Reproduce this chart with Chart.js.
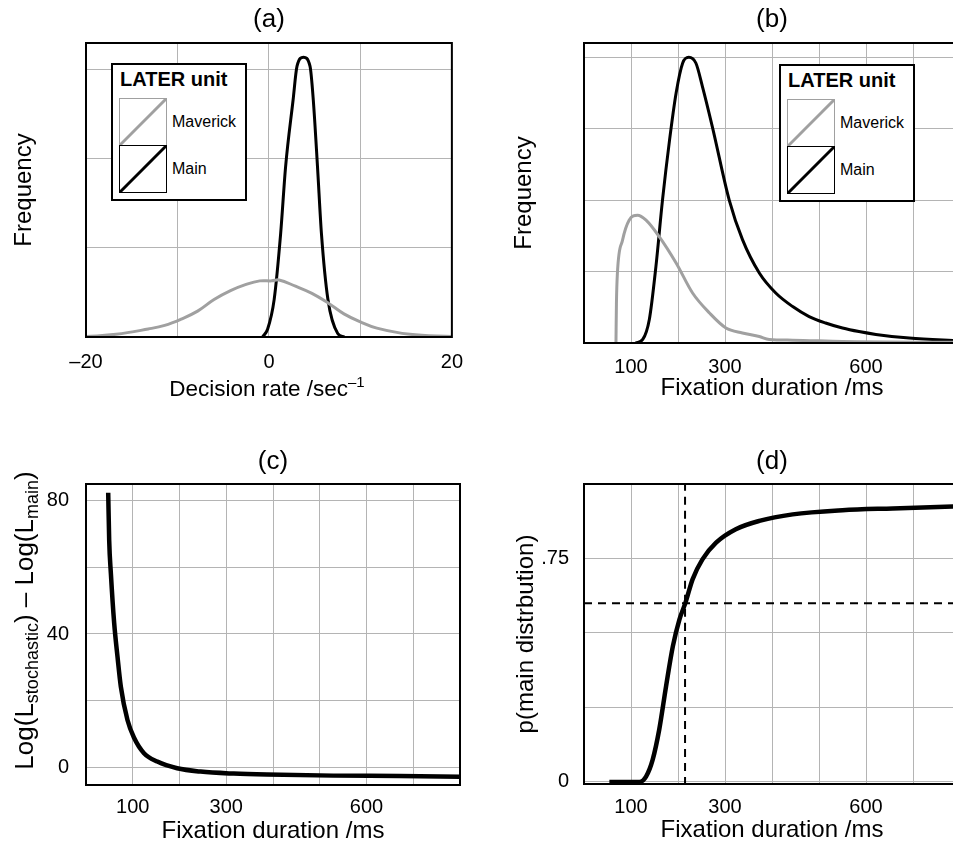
<!DOCTYPE html>
<html><head><meta charset="utf-8">
<script src="https://cdn.jsdelivr.net/npm/chart.js@4.4.1/dist/chart.umd.min.js"></script>
<style>
html,body{margin:0;padding:0;background:#fff;overflow:hidden;width:953px;height:846px;position:relative;}
canvas{position:absolute;}
.legend{position:absolute;box-sizing:border-box;width:136px;height:138px;border:2px solid #000;background:#fff;font-family:'Liberation Sans',Arial,sans-serif;color:#000;}
.legend .lt{position:absolute;left:7px;top:2px;font-weight:bold;font-size:20px;line-height:24px;white-space:nowrap;}
.legend svg{position:absolute;left:6px;top:33px;}
.legend .li{position:absolute;left:59px;font-size:16px;line-height:20px;white-space:nowrap;}
</style></head>
<body>
<canvas id="ca" width="476" height="407" style="left:0;top:0"></canvas>
<canvas id="cb" width="478" height="407" style="left:498px;top:0"></canvas>
<canvas id="cc" width="476" height="406" style="left:0;top:440px"></canvas>
<canvas id="cd" width="478" height="406" style="left:498px;top:440px"></canvas>
<div id="lega" class="legend" style="left:111px;top:63px"></div>
<div id="legb" class="legend" style="left:779px;top:64px"></div>
<script>
// ---------- data ----------
const legendTitle = 'LATER unit';
const seriesNames = ['Maverick', 'Main'];

// (a) decision rate distributions
const aXTicks = [-20, -10, 0, 10, 20];
const aXLabels = ['–20', '', '0', '', '20'];
const aYGrid = [0, 1, 2, 3];
const aMavX = [-20, -16.7, -13.2, -11.4, -9.6, -7.8, -6.0, -4.2, -2.5, -1.0, 0.3, 1.1, 2.9, 4.7, 6.5, 8.2, 10, 11.8, 15.4, 20];
const aMavY = [0.005, 0.03, 0.09, 0.13, 0.2, 0.29, 0.42, 0.52, 0.59, 0.63, 0.63, 0.64, 0.57, 0.49, 0.38, 0.26, 0.17, 0.1, 0.03, 0.005];
const aMainX = [-0.7, -0.14, 0.57, 1.28, 1.82, 2.64, 3.07, 3.78, 4.49, 4.85, 5.31, 5.74, 6.45, 7.52, 8.24];
const aMainY = [0.0, 0.09, 0.42, 1.16, 1.91, 2.66, 3.04, 3.14, 3.04, 2.66, 1.91, 1.16, 0.42, 0.04, 0.0];

// (b) fixation duration distributions
const msTicks = [0, 100, 200, 300, 400, 500, 600, 700, 800];
const msLabels = ['', '100', '', '300', '', '', '600', '', ''];
const bYGrid = [0, 1, 2, 3, 4];
const bMavX = [68, 69, 71, 82, 96, 114, 132, 160, 196, 231, 267, 302, 337, 373, 394, 444, 550, 800];
const bMavY = [0, 0.55, 0.97, 1.44, 1.72, 1.79, 1.72, 1.49, 1.12, 0.70, 0.42, 0.21, 0.14, 0.09, 0.05, 0.04, 0.02, 0.01];
const bMainX = [110, 125, 139, 153, 167, 182, 196, 210, 223, 238, 252, 273, 309, 337, 373, 408, 444, 479, 514, 550, 585, 621, 692, 800];
const bMainY = [0, 0.05, 0.33, 1.07, 2.0, 2.84, 3.5, 3.92, 4.0, 3.92, 3.59, 3.03, 2.0, 1.45, 0.98, 0.70, 0.51, 0.37, 0.28, 0.21, 0.16, 0.12, 0.07, 0.03];

// (c) log-likelihood difference
const cYTicks = [0, 20, 40, 60, 80];
const cYLabels = ['0', '', '40', '', '80'];
const cX = [47.5, 49.6, 53.2, 60.3, 67.4, 74.5, 88.7, 102.8, 124, 152.5, 195, 245, 316, 387, 529, 671, 800];
const cY = [82.2, 68, 58.1, 43.2, 33.2, 24.3, 14.3, 9.0, 4.4, 1.9, -0.1, -1.1, -1.7, -2.0, -2.3, -2.4, -2.6];

// (d) probability of main distribution
const dYTicks = [0, 0.25, 0.5, 0.75, 1];
const dYLabels = ['0', '', '', '.75', ''];
const dX = [54, 118, 132, 146, 160, 174.5, 189, 203, 215.6, 231, 252, 281, 323, 373, 444, 550, 657, 800];
const dY = [0, 0, 0.018, 0.074, 0.175, 0.32, 0.455, 0.545, 0.6, 0.68, 0.747, 0.803, 0.848, 0.876, 0.898, 0.912, 0.918, 0.925];
const dCritX = [215, 215];
const dCritY = [-0.01, 1.01];
const dHalfX = [0, 800];
const dHalfY = [0.6, 0.6];

// ---------- helpers ----------
const FF = "'Liberation Sans', Arial, Helvetica, sans-serif";
Chart.defaults.font.family = FF;
Chart.defaults.color = '#000';
const GREY = '#a0a0a0';
const GRID = '#b4b4b4';
const pts = (xs, ys) => xs.map((x, i) => ({x: x, y: ys[i]}));

const framePlugin = {
  id: 'frame',
  afterDatasetsDraw(chart) {
    const a = chart.chartArea, ctx = chart.ctx;
    ctx.save();
    ctx.strokeStyle = '#000';
    ctx.lineWidth = 2;
    ctx.strokeRect(a.left, a.top, a.right - a.left, a.bottom - a.top);
    ctx.restore();
  }
};

function drawRich(ctx, segs, cx, cy, rot) {
  ctx.save();
  ctx.translate(cx, cy);
  ctx.rotate(rot);
  let total = 0;
  segs.forEach(s => { ctx.font = s.size + 'px ' + FF; s.w = ctx.measureText(s.t).width; total += s.w; });
  let x = -total / 2;
  ctx.fillStyle = '#000';
  ctx.textBaseline = 'alphabetic';
  segs.forEach(s => { ctx.font = s.size + 'px ' + FF; ctx.fillText(s.t, x, s.dy); x += s.w; });
  ctx.restore();
}

function richPlugin(fn) {
  return { id: 'rich', afterDraw(chart) { fn(chart); } };
}

function tickSetter(vals) {
  return function(scale) { scale.ticks = vals.map(v => ({value: v})); };
}
function labeler(vals, labels) {
  return function(v) { const i = vals.indexOf(v); return i >= 0 ? labels[i] : ''; };
}

function makeChart(id, o) {
  const isTop = o.top;
  new Chart(document.getElementById(id), {
    type: 'line',
    data: { datasets: o.datasets },
    options: {
      responsive: false,
      animation: false,
      events: [],
      layout: { padding: { left: 0, right: o.rightPad, top: 0, bottom: 0 } },
      elements: { point: { radius: 0 }, line: { fill: false } },
      plugins: {
        legend: { display: false },
        tooltip: { enabled: false },
        title: {
          display: true, text: o.title, fullSize: false, color: '#000',
          font: { size: 26, weight: 'normal', lineHeight: 1.2 },
          padding: isTop ? { top: 4.4, bottom: 7.4 } : { top: 6.4, bottom: 6.4 }
        }
      },
      scales: {
        x: {
          type: 'linear', min: o.xmin, max: o.xmax,
          afterBuildTicks: tickSetter(o.xTicks),
          afterFit: s => { s.height = o.xH; },
          grid: { color: GRID, lineWidth: 1, drawTicks: false },
          border: { display: false },
          ticks: { autoSkip: false, maxRotation: 0, padding: o.xPad, font: { size: 20, lineHeight: 1.2 },
                   callback: labeler(o.xTicks, o.xLabels) },
          title: o.xTitle ? { display: true, text: o.xTitle, font: { size: 24, lineHeight: 1.2 },
                   padding: { top: 0, bottom: o.xTitlePad } } : { display: false }
        },
        y: {
          type: 'linear', min: o.ymin, max: o.ymax,
          afterBuildTicks: tickSetter(o.yTicks),
          afterFit: s => { s.width = 86; },
          grid: { color: GRID, lineWidth: 1, drawTicks: false },
          border: { display: false },
          ticks: { display: !!o.yLabels, autoSkip: false, padding: o.yPad || 0, font: { size: 20, lineHeight: 1.2 },
                   callback: o.yLabels ? labeler(o.yTicks, o.yLabels) : (() => '') },
          title: o.yTitle ? { display: true, text: o.yTitle, font: { size: 24, lineHeight: 1.2 },
                   padding: { top: o.yTitlePad, bottom: 0 } } : { display: false }
        }
      }
    },
    plugins: [framePlugin].concat(o.extra || [])
  });
}

function lineDs(xs, ys, color, width, dash, tension) {
  const ds = { data: pts(xs, ys), borderColor: color, borderWidth: width, borderDash: dash || [],
           pointRadius: 0, fill: false };
  if (tension) { ds.tension = tension; } else { ds.cubicInterpolationMode = 'monotone'; }
  return ds;
}

// (a)
makeChart('ca', {
  top: true, title: '(a)', rightPad: 16,
  xmin: -20, xmax: 20, xTicks: aXTicks, xLabels: aXLabels, xH: 70, xPad: 13,
  ymin: 0, ymax: 3.3, yTicks: aYGrid, yTitle: 'Frequency', yTitlePad: 9.6,
  datasets: [lineDs(aMavX, aMavY, GREY, 3, null, 0.4), lineDs(aMainX, aMainY, '#000', 3)],
  extra: [richPlugin(ch => {
    const a = ch.chartArea;
    drawRich(ch.ctx, [
      { t: 'Decision rate /sec', size: 22.5, dy: 0 },
      { t: '–1', size: 15, dy: -9 }
    ], (a.left + a.right) / 2 - 2, 396, 0);
  })]
});

// (b)
makeChart('cb', {
  top: true, title: '(b)', rightPad: 16,
  xmin: 0, xmax: 800, xTicks: msTicks, xLabels: msLabels, xH: 64, xPad: 12,
  xTitle: 'Fixation duration /ms', xTitlePad: 4.6,
  ymin: 0, ymax: 4.2, yTicks: bYGrid, yTitle: 'Frequency', yTitlePad: 11.6,
  datasets: [lineDs(bMavX, bMavY, GREY, 3), lineDs(bMainX, bMainY, '#000', 3)]
});

// (c)
makeChart('cc', {
  top: false, title: '(c)', rightPad: 16,
  xmin: 0, xmax: 800, xTicks: msTicks, xLabels: msLabels, xH: 61, xPad: 10,
  xTitle: 'Fixation duration /ms', xTitlePad: 0,
  ymin: -5.1, ymax: 84.8, yTicks: cYTicks, yLabels: cYLabels, yPad: 17,
  datasets: [lineDs(cX, cY, '#000', 4.5)],
  extra: [richPlugin(ch => {
    const a = ch.chartArea;
    drawRich(ch.ctx, [
      { t: 'Log(L', size: 26, dy: 0 },
      { t: 'stochastic', size: 18, dy: 5 },
      { t: ') – Log(L', size: 26, dy: 0 },
      { t: 'main', size: 18, dy: 5 },
      { t: ')', size: 26, dy: 0 }
    ], 33, (a.top + a.bottom) / 2 - 14, -Math.PI / 2);
  })]
});

// (d)
makeChart('cd', {
  top: false, title: '(d)', rightPad: 16,
  xmin: 0, xmax: 800, xTicks: msTicks, xLabels: msLabels, xH: 62, xPad: 11,
  xTitle: 'Fixation duration /ms', xTitlePad: 1.6,
  ymin: -0.007, ymax: 1.0, yTicks: dYTicks, yLabels: dYLabels, yPad: 15,
  yTitle: 'p(main distrbution)', yTitlePad: 13.6,
  datasets: [
    lineDs(dCritX, dCritY, '#000', 2, [8, 6]),
    lineDs(dHalfX, dHalfY, '#000', 2, [8, 6]),
    lineDs(dX, dY, '#000', 4.5)
  ]
});

// legends
function buildLegend(id) {
  const el = document.getElementById(id);
  el.innerHTML =
    '<div class="lt">' + legendTitle + '</div>' +
    '<svg width="48" height="95" viewBox="0 0 48 95">' +
    '<rect x="0.5" y="0.5" width="47" height="47" fill="#fff" stroke="' + GREY + '" stroke-width="1"/>' +
    '<line x1="1" y1="47" x2="47" y2="1" stroke="' + GREY + '" stroke-width="3"/>' +
    '<rect x="0.5" y="47.5" width="47" height="47" fill="#fff" stroke="#000" stroke-width="1"/>' +
    '<line x1="1" y1="94" x2="47" y2="48" stroke="#000" stroke-width="3"/>' +
    '</svg>' +
    '<div class="li" style="top:47px">' + seriesNames[0] + '</div>' +
    '<div class="li" style="top:94px">' + seriesNames[1] + '</div>';
}
buildLegend('lega');
buildLegend('legb');
</script>
</body></html>
